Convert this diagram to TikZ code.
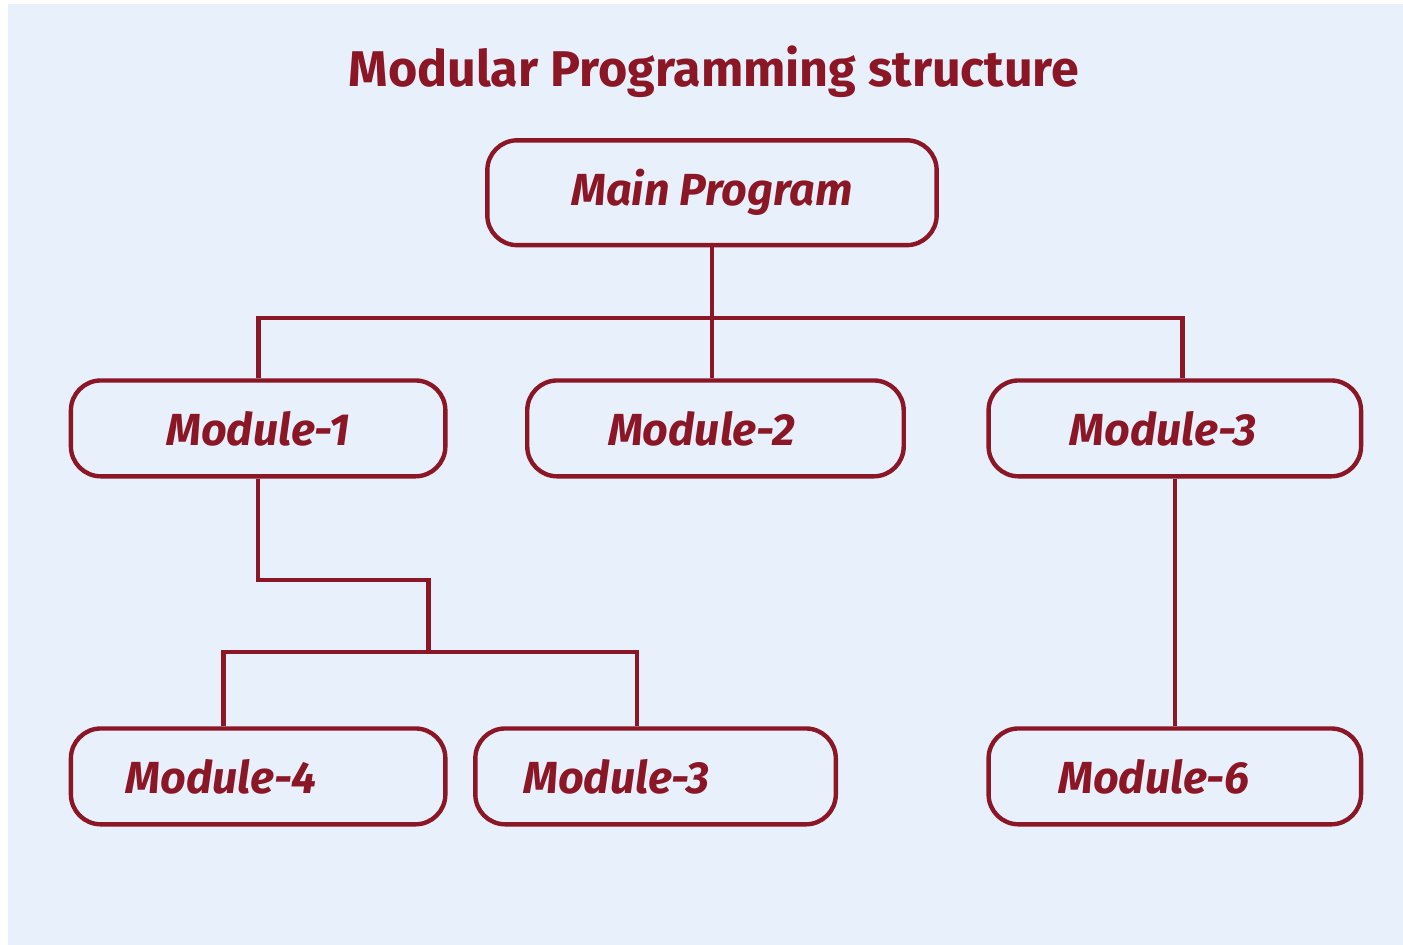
\documentclass[tikz,border=0pt]{standalone}
\usepackage{fontspec}
\setmainfont{Fira Sans}
\usetikzlibrary{positioning}
\definecolor{mred}{RGB}{139, 22, 38}
\definecolor{mback}{RGB}{231, 240, 251}

\tikzset{
  modbox/.style={draw=mred, line width=1.25pt, rounded corners=3mm, minimum height=0.96cm,
    text=mred, font=\fontsize{12.8}{15}\selectfont\bfseries\itshape},
  link/.style={draw=mred, line width=1.25pt}
}

\begin{document}
\begin{tikzpicture}
    \fill [white] (0, 0) rectangle (14.03, -9.44);
    \fill [mback] (0.08, -0.04) rectangle (14.05, -9.46);
    \useasboundingbox (0, 0) rectangle (14.03, -9.44);

    \node [text=mred, font=\fontsize{14.3}{17}\selectfont\bfseries] (title) at (7.15, -0.72) {Modular Programming structure};

    \node [modbox, minimum width=4.5cm, minimum height=1.05cm] (main) at (7.13, -1.93) {Main Program};

    \node [modbox, minimum width=3.75cm] (m1) at (2.585, -4.29) {Module-1};
    \node [modbox, minimum width=3.77cm] (m2) at (7.165, -4.29) {\hspace*{-2.8mm}Module-2};
    \node [modbox, minimum width=3.73cm] (m3) at (11.765, -4.29) {\hspace*{-2.4mm}Module-3};

    \node [modbox, minimum width=3.75cm] (m4) at (2.585, -7.775) {\hspace*{-7.4mm}Module-4};
    \node [modbox, minimum width=3.61cm] (m5) at (6.565, -7.775) {\hspace*{-7.8mm}Module-3};
    \node [modbox, minimum width=3.73cm] (m6) at (11.765, -7.775) {\hspace*{-4.2mm}Module-6};

    % main program to first row
    \draw [link] (main.south) -- ++(0, -0.71) coordinate (bus);
    \draw [link] (bus) -| ([xshift=0.05mm]m1.north);
    \draw [link] (bus) -- (bus |- m2.north);
    \draw [link] (bus) -| ([xshift=0.75mm]m3.north);

    % second row
    \draw [link] (m1.south) |- (4.29, -5.81) -- (4.29, -6.53) coordinate (split);
    \draw [link] (split) -| ([xshift=-3.45mm]m4.north);
    \draw [link] (split) -| ([xshift=-1.85mm]m5.north);
    \draw [link] (m3.south) -- (m6.north);
\end{tikzpicture}
\end{document}
